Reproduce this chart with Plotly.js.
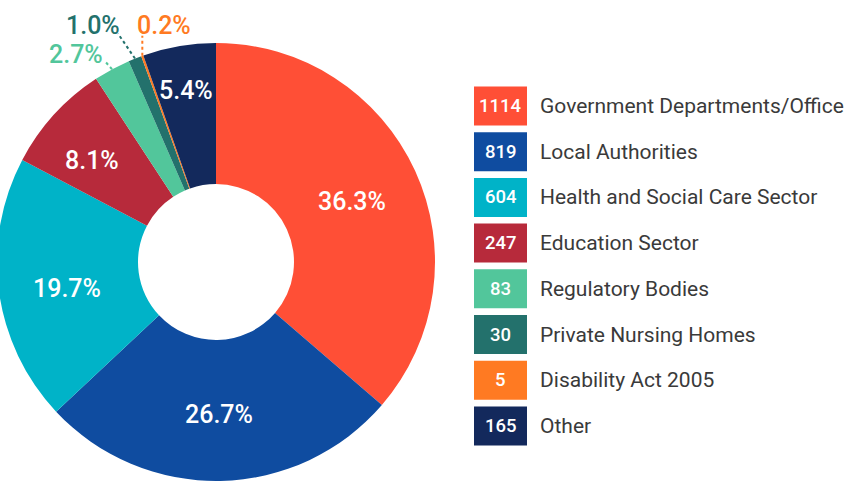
<!DOCTYPE html>
<html>
<head>
<meta charset="utf-8">
<script src="https://cdn.plot.ly/plotly-3.0.1.min.js"></script>
<style>
  html, body { margin: 0; padding: 0; background: #ffffff; overflow: hidden; }
  #chart { position: absolute; left: -3px; top: 0; width: 852px; height: 482px; }
</style>
</head>
<body>
<div id="chart"></div>
<script>
// Requests by sector
const categories = [
  'Government Departments/Office',
  'Local Authorities',
  'Health and Social Care Sector',
  'Education Sector',
  'Regulatory Bodies',
  'Private Nursing Homes',
  'Disability Act 2005',
  'Other'
];
const counts = [1114, 819, 604, 247, 83, 30, 5, 165];
const colors = ['#ff4f36', '#0f4ca0', '#00b3c8', '#b72a3b', '#52c69b', '#23716c', '#ff7a22', '#13295c'];

const W = 852, H = 482, OFFSET = 3;
const px = x => (x + OFFSET) / W;
const py = y => 1 - y / H;

// Pie geometry (page pixels)
const CX = 216, CY = 262, R = 219;
const FONT = 'Roboto, "Noto Sans", sans-serif';

const total = counts.reduce((a, b) => a + b, 0);
const pctText = v => (100 * v / total).toFixed(1) + '%';

// Label placement per slice:
//  inside  -> radius from centre along the slice's mid-angle, plus a small nudge
//  outside -> dotted leader from the outer edge, label offset from that edge
const labelStyle = [
  { inside: true, r: 150, nudge: [0, 2] },
  { inside: true, r: 151, nudge: [0, 2] },
  { inside: true, r: 150, nudge: [0, 7] },
  { inside: true, r: 161, nudge: [-5, 7] },
  { inside: false, lead: [-7, -8], label: [-36, -15] },
  { inside: false, lead: [-17, -25], label: [-42, -33] },
  { inside: false, lead: [0, -20], label: [21.5, -30.5] },
  { inside: true, r: 176, nudge: [0, 2] }
];

const annotations = [];
const shapes = [];

let cum = 0;
counts.forEach((v, i) => {
  const mid = (cum + v / 2) / total * 2 * Math.PI;
  cum += v;
  const st = labelStyle[i];
  if (st.inside) {
    annotations.push({
      xref: 'paper', yref: 'paper',
      x: px(CX + st.r * Math.sin(mid) + st.nudge[0]),
      y: py(CY - st.r * Math.cos(mid) + st.nudge[1]),
      xanchor: 'center', yanchor: 'middle', showarrow: false,
      text: pctText(v),
      font: { family: FONT, size: 25, color: '#ffffff', weight: 500 }
    });
    return;
  }
  const ex = CX + R * Math.sin(mid);
  const ey = CY - R * Math.cos(mid);
  shapes.push({
    type: 'line', xref: 'paper', yref: 'paper',
    x0: px(ex), y0: py(ey), x1: px(ex + st.lead[0]), y1: py(ey + st.lead[1]),
    line: { color: colors[i], width: 2, dash: 'dot' }
  });
  annotations.push({
    xref: 'paper', yref: 'paper',
    x: px(ex + st.label[0]), y: py(ey + st.label[1]),
    xanchor: 'center', yanchor: 'middle', showarrow: false,
    text: pctText(v),
    font: { family: FONT, size: 25, color: colors[i], weight: 500 }
  });
});

// Legend: coloured box holding the count, then the category name
const LEG_X0 = 474, LEG_X1 = 527, LEG_Y0 = 106, LEG_STEP = 45.7, BOX_H = 39;
categories.forEach((name, i) => {
  const yc = LEG_Y0 + i * LEG_STEP;
  shapes.push({
    type: 'rect', xref: 'paper', yref: 'paper',
    x0: px(LEG_X0), x1: px(LEG_X1), y0: py(yc - BOX_H / 2), y1: py(yc + BOX_H / 2),
    fillcolor: colors[i], line: { width: 0 }
  });
  annotations.push({
    xref: 'paper', yref: 'paper', x: px((LEG_X0 + LEG_X1) / 2), y: py(yc),
    xanchor: 'center', yanchor: 'middle', showarrow: false,
    text: String(counts[i]),
    font: { family: FONT, size: 18.5, color: '#ffffff', weight: 500 }
  });
  annotations.push({
    xref: 'paper', yref: 'paper', x: px(538), y: py(yc),
    xanchor: 'left', yanchor: 'middle', showarrow: false,
    text: name,
    font: { family: FONT, size: 21, color: '#3a3a3a' }
  });
});

const trace = {
  type: 'pie',
  labels: categories,
  values: counts,
  sort: false,
  direction: 'clockwise',
  rotation: 0,
  hole: 78 / 219,
  marker: { colors: colors, line: { width: 0 } },
  textinfo: 'none',
  domain: { x: [px(CX - R), px(CX + R)], y: [py(CY + R), py(CY - R)] },
  hoverinfo: 'label+value+percent'
};

const layout = {
  width: W, height: H,
  margin: { l: 0, r: 0, t: 0, b: 0 },
  paper_bgcolor: '#ffffff',
  showlegend: false,
  shapes: shapes,
  annotations: annotations
};

Plotly.newPlot('chart', [trace], layout, { displayModeBar: false, staticPlot: true });
</script>
</body>
</html>
